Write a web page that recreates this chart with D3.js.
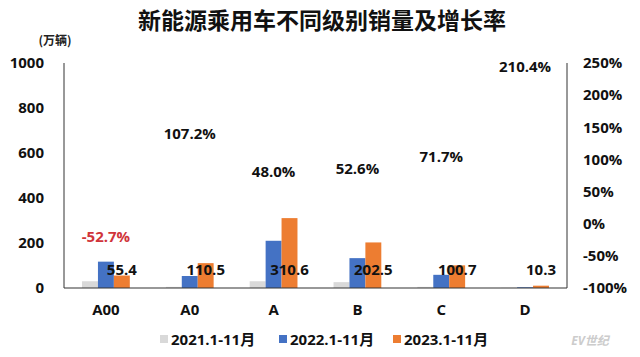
<!DOCTYPE html>
<html><head><meta charset="utf-8">
<script src="https://cdn.jsdelivr.net/npm/d3@7"></script>
<style>
html,body{margin:0;padding:0;background:#fff;}
svg{display:block;}
text{font-family:"Open Sans","Noto Sans CJK SC",sans-serif;font-weight:700;}
</style></head>
<body>
<script>
const categories = ["A00","A0","A","B","C","D"];
const seriesNames = ["2021.1-11月","2022.1-11月","2023.1-11月"];
const sales2021 = [30, 5, 30, 26, 5, 1];
const sales2022 = [117.1, 53.3, 209.9, 132.7, 58.6, 3.3];
const sales2023 = [55.4, 110.5, 310.6, 202.5, 100.7, 10.3];
const growth = [-52.7, 107.2, 48.0, 52.6, 71.7, 210.4];
const leftTicks = [0,200,400,600,800,1000];
const rightTicks = [-100,-50,0,50,100,150,200,250];
const colors = ["#d9d9d9","#4472c4","#ed7d31"];

const W=640,H=357;
const svg=d3.select("body").append("svg").attr("width",W).attr("height",H);
const L=64,R=567,T=63,B=288;
const x=d3.scaleBand().domain(categories).range([L,R]).paddingInner(0.43).paddingOuter(0.215);
const xs=d3.scaleBand().domain(seriesNames).range([0,x.bandwidth()]);
const y=d3.scaleLinear().domain([0,1000]).range([B,T]);
const yR=d3.scaleLinear().domain([-100,250]).range([B,T]);
const series=[sales2021,sales2022,sales2023];

// title
svg.append("text").attr("x",322).attr("y",29).attr("text-anchor","middle")
  .style("font-family","'Noto Sans CJK SC',sans-serif").style("font-size","23px").attr("fill","#111")
  .text("新能源乘用车不同级别销量及增长率");
svg.append("text").attr("x",55).attr("y",45).attr("text-anchor","middle")
  .style("font-family","'Noto Sans CJK SC',sans-serif").style("font-size","12px").attr("fill","#222")
  .text("(万辆)");

// axes
const gl=svg.append("g").attr("transform",`translate(${L},0)`)
  .call(d3.axisLeft(y).tickValues(leftTicks).tickSize(0).tickPadding(20).tickFormat(d3.format("d")));
gl.select(".domain").remove();
gl.selectAll("text").style("font-size","15px").attr("fill","#111");
const gr=svg.append("g").attr("transform",`translate(${R},0)`)
  .call(d3.axisRight(yR).tickValues(rightTicks).tickSize(0).tickPadding(16).tickFormat(d=>d+"%"));
gr.select(".domain").remove();
gr.selectAll("text").style("font-size","15px").attr("fill","#111");
const gx=svg.append("g").attr("transform",`translate(0,${B})`)
  .call(d3.axisBottom(x).tickSize(0).tickPadding(16));
gx.select(".domain").remove();
gx.selectAll("text").style("font-size","15px").attr("fill","#111");

// bars
series.forEach((vals,si)=>{
  svg.append("g").selectAll("rect").data(vals).join("rect")
    .attr("x",(d,i)=>x(categories[i])+xs(seriesNames[si]))
    .attr("width",xs.bandwidth())
    .attr("y",d=>y(d)).attr("height",d=>B-y(d))
    .attr("fill",colors[si]);
});

// frame lines
svg.append("line").attr("x1",L).attr("x2",L).attr("y1",T).attr("y2",B).attr("stroke","#333").attr("stroke-width",1);
svg.append("line").attr("x1",R).attr("x2",R).attr("y1",T).attr("y2",B).attr("stroke","#333").attr("stroke-width",1);
svg.append("line").attr("x1",L).attr("x2",R).attr("y1",B).attr("y2",B).attr("stroke","#333").attr("stroke-width",1.2);

// value labels (2023)
svg.append("g").selectAll("text").data(sales2023).join("text")
  .attr("x",(d,i)=>x(categories[i])+xs(seriesNames[2])+xs.bandwidth()/2)
  .attr("y",B-13).attr("text-anchor","middle")
  .style("font-size","15px").attr("fill","#111")
  .text(d=>d.toFixed(1));

// growth labels
svg.append("g").selectAll("text").data(growth).join("text")
  .attr("x",(d,i)=>x(categories[i])+x.bandwidth()/2)
  .attr("y",d=>yR(d)-16).attr("text-anchor","middle")
  .style("font-size","15px").attr("fill",d=>d<0?"#d0343a":"#111")
  .text(d=>d.toFixed(1)+"%");

// legend
const lg=svg.append("g");
const lx=[160,279,393];
seriesNames.forEach((n,i)=>{
  lg.append("rect").attr("x",lx[i]).attr("y",335).attr("width",8).attr("height",8).attr("fill",colors[i]);
  lg.append("text").attr("x",lx[i]+11).attr("y",345).style("font-size","15px").attr("fill","#111").text(n);
});

// source mark
svg.append("text").attr("x",590).attr("y",345).attr("text-anchor","middle")
  .style("font-size","12px").style("font-style","italic").attr("fill","#ccc").text("EV世纪");
</script>
</body></html>
